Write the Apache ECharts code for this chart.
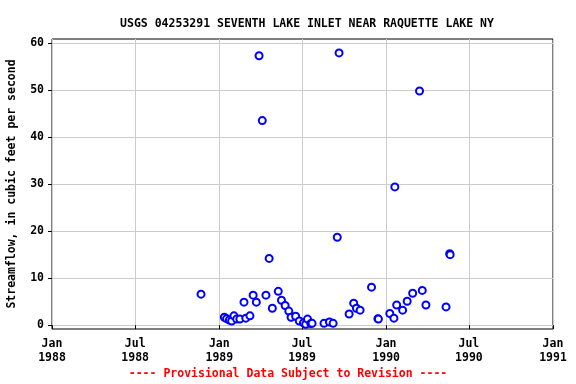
<!DOCTYPE html>
<html><head><meta charset="utf-8">
<script src="https://cdn.jsdelivr.net/npm/echarts@6/dist/echarts.min.js"></script>
<style>html,body{margin:0;padding:0;background:#fff}#c{width:576px;height:384px}</style>
</head><body><div id="c"></div>
<script>
const dates = [
 '1988-11-22','1989-01-12','1989-01-17','1989-01-23','1989-01-28','1989-02-02','1989-02-08','1989-02-15',
 '1989-02-24','1989-02-28','1989-03-09','1989-03-16','1989-03-23','1989-03-29','1989-04-05','1989-04-13',
 '1989-04-20','1989-04-27','1989-05-10','1989-05-17','1989-05-25','1989-06-02','1989-06-07','1989-06-17',
 '1989-06-25','1989-07-04','1989-07-09','1989-07-13','1989-07-20','1989-07-23','1989-08-18','1989-08-30',
 '1989-09-07','1989-09-16','1989-09-20','1989-10-12','1989-10-22','1989-10-28','1989-11-05','1989-11-30',
 '1989-12-14','1989-12-15','1990-01-09','1990-01-18','1990-01-20','1990-01-24','1990-02-06','1990-02-16',
 '1990-02-28','1990-03-15','1990-03-21','1990-03-29','1990-05-12','1990-05-20','1990-05-21'
];
const flows = [
 6.6,1.7,1.4,1.1,0.9,2.0,1.3,1.3,
 4.9,1.5,2.0,6.4,4.9,57.3,43.5,6.4,
 14.2,3.6,7.2,5.3,4.2,3.0,1.7,1.9,
 0.9,0.5,0.2,1.3,0.35,0.4,0.4,0.7,
 0.4,18.7,57.9,2.4,4.7,3.6,3.2,8.1,
 1.4,1.3,2.5,1.5,29.4,4.3,3.2,5.1,
 6.8,49.8,7.4,4.3,3.9,15.2,15.0
];
const xTickDates = ['1988-01-01','1988-07-01','1989-01-01','1989-07-01','1990-01-01','1990-07-01','1991-01-01'];
const yTicks = [0,10,20,30,40,50,60];
const monthNames = ['Jan','Feb','Mar','Apr','May','Jun','Jul','Aug','Sep','Oct','Nov','Dec'];

const toMs = s => Date.parse(s + 'T00:00:00Z');
const data = dates.map((d,i)=>[toMs(d), flows[i]]);
const xTicks = xTickDates.map(toMs);
const font = 'DejaVu Sans Mono';

const chart = echarts.init(document.getElementById('c'), null, {renderer:'canvas'});
chart.setOption({
  animation:false,
  backgroundColor:'#fff',
  title:{text:'USGS 04253291 SEVENTH LAKE INLET NEAR RAQUETTE LAKE NY',left:302,top:13,textAlign:'center',
    textStyle:{fontFamily:font,fontSize:11.5,fontWeight:'bold',color:'#000'}},
  grid:{left:52,right:23,top:39,bottom:55,show:true,borderColor:'#000',borderWidth:1,backgroundColor:'transparent',
    containLabel:false,outerBoundsMode:'none'},
  xAxis:{type:'value',min:xTicks[0],max:xTicks[xTicks.length-1],
    axisLine:{show:false},
    axisTick:{show:true,length:4,customValues:xTicks,lineStyle:{color:'#000'}},
    splitLine:{show:true,lineStyle:{color:'#cccccc',width:1}},
    axisLabel:{customValues:xTicks,margin:8,fontFamily:font,fontSize:11.5,fontWeight:'bold',color:'#000',lineHeight:14,
      formatter:v=>{const d=new Date(v);return monthNames[d.getUTCMonth()]+'\n'+d.getUTCFullYear();}}},
  yAxis:{type:'value',min:-0.8,max:60.85,
    name:'Streamflow, in cubic feet per second',nameLocation:'middle',nameGap:34,
    nameTextStyle:{fontFamily:font,fontSize:11.5,fontWeight:'bold',color:'#000'},
    axisLine:{show:false},
    axisTick:{show:true,length:4,customValues:yTicks,lineStyle:{color:'#000'}},
    splitLine:{show:true,lineStyle:{color:'#cccccc',width:1}},
    axisLabel:{customValues:yTicks,margin:8,fontFamily:font,fontSize:11.5,fontWeight:'bold',color:'#000'}},
  series:[{type:'scatter',data:data,
    symbol:'emptyCircle',
    symbolSize:7,
    itemStyle:{color:'#0000ff',borderColor:'#0000ff',borderWidth:1.5,opacity:1}}],
  graphic:[{type:'text',left:'center',top:368,style:{text:'---- Provisional Data Subject to Revision ----',
    font:'bold 11.5px "DejaVu Sans Mono"',fill:'#ff0000'}}]
});
</script></body></html>
